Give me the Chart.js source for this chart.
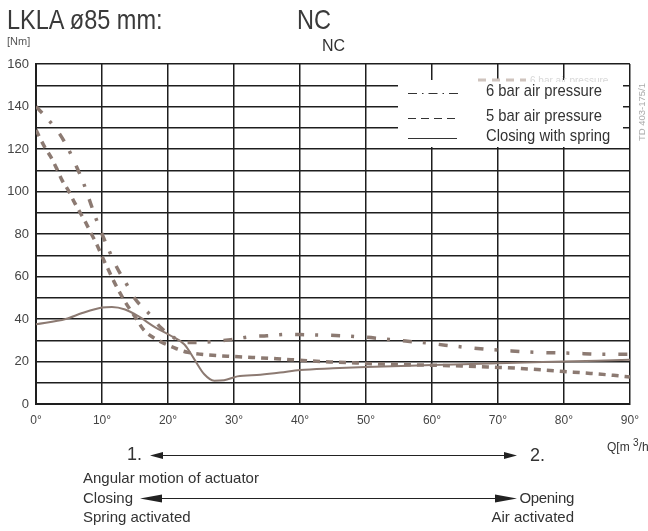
<!DOCTYPE html>
<html lang="en">
<head>
<meta charset="UTF-8">
<title>LKLA ø85 mm: NC</title>
<script src="https://cdn.jsdelivr.net/npm/chart.js"></script>
<style>
  body { margin: 0; background: #fff; }
  #wrap {
    position: relative;
    width: 648px;
    height: 531px;
    overflow: hidden;
    font-family: "Liberation Sans", Arial, sans-serif;
    color: #333;
  }
  #wrap canvas { position: absolute; left: 0; top: 0; }
  .t { position: absolute; white-space: nowrap; line-height: 1; }
  /* the original lettering is a condensed grotesque */
  .narrow { transform-origin: 0 0; transform: scaleX(0.84); }
  .leg { font-size: 17px; transform-origin: 0 0; transform: scaleX(0.87); }
</style>
</head>
<body>
<div id="wrap">
  <canvas id="chart" width="648" height="531"></canvas>

  <div class="t narrow" style="left:7px; top:6px; font-size:28px; color:#3a3a3a;">LKLA ø85 mm:</div>
  <div class="t narrow" style="left:297px; top:6px; font-size:28px; color:#3a3a3a;">NC</div>
  <div class="t" style="left:7px; top:36px; font-size:11px; color:#555;">[Nm]</div>
  <div class="t" style="left:322px; top:37.5px; font-size:16px; color:#333;">NC</div>

  <div class="t leg" style="left:486px; top:82px;">6 bar air pressure</div>
  <div class="t leg" style="left:486px; top:107px;">5 bar air pressure</div>
  <div class="t leg" style="left:486px; top:127px;">Closing with spring</div>

  <div class="t" style="left:642px; top:112px; font-size:9.5px; color:#aaa; transform:translate(-50%,-50%) rotate(-90deg);">TD 403-175/1</div>

  <div class="t" style="left:607px; top:438px; font-size:12px;">Q[m <sup style="font-size:10px; vertical-align:5px;">3</sup>/h</div>
  <div class="t" style="left:127px; top:445px; font-size:18px;">1.</div>
  <div class="t" style="left:530px; top:446px; font-size:18px;">2.</div>
  <div class="t" style="left:83px; top:470px; font-size:15px;">Angular motion of actuator</div>
  <div class="t" style="left:83px; top:490px; font-size:15px;">Closing</div>
  <div class="t" style="left:83px; top:508.5px; font-size:15px;">Spring activated</div>
  <div class="t" style="right:74px; top:490px; font-size:15px; letter-spacing:-0.3px;">Opening</div>
  <div class="t" style="right:74px; top:508.5px; font-size:15px;">Air activated</div>
</div>

<script>
  // angle of actuator [deg] and torque [Nm]
  const sixBarDeg = [0, 1.8, 3.6, 4.9, 6.1, 7.2, 8.1, 9, 10, 11.1, 12.3, 13.8, 15, 17, 18.9, 21, 22.5, 24.4, 26.8,
                     29.5, 32.5, 35, 38, 41, 44, 47, 50, 53, 56, 59, 62, 65, 68, 71, 74, 77, 80, 83, 86, 90];
  const sixBarNm  = [140, 134, 127, 120, 112, 104, 96, 88, 80, 72, 64, 56, 49.5, 43, 36, 31, 29, 29, 29.4,
                     30.3, 31.7, 32.1, 32.8, 32.6, 32.4, 32, 31.4, 30.5, 29.6, 28.8, 27.7, 26.7, 25.8, 25.2, 24.6, 24.2, 24, 23.7, 23.4, 23.4];

  const fiveBarDeg = [0, 1.3, 2.2, 3.1, 3.9, 4.9, 5.8, 6.7, 7.6, 8.4, 9.3, 10, 10.9, 11.8, 12.6, 13.6, 15.1, 16.3, 17.7, 19.5,
                      21.3, 23, 25, 29, 32.8, 36.5, 40.5, 44.5, 48.5, 52.5, 56.5, 60.5, 64.5, 68.5, 72.5, 76.5, 80, 84, 87.5, 90];
  const fiveBarNm  = [129, 121, 116.5, 111, 105.6, 100.5, 95, 90, 85, 80, 74.5, 69.5, 63.6, 57.7, 53, 47.6, 40.6, 35, 31.4, 28.4,
                      26, 24.3, 23.4, 22.5, 21.9, 21.3, 20.5, 19.8, 19.3, 18.8, 18.5, 18.2, 17.9, 17.4, 16.9, 16.1, 15.3, 14.4, 13.5, 12.7];

  const springDeg = [0, 4.5, 7, 10, 11.5, 13.5, 15.5, 18, 20.5, 22.5, 24, 25.5, 27, 28.5, 30.5, 34, 37, 40, 45, 50, 60, 70, 80, 90];
  const springNm  = [37.5, 40, 42.8, 45.4, 45.7, 44.5, 41.3, 36.2, 32, 28, 21, 14, 11, 11.2, 13, 13.8, 14.8, 16, 16.8, 17.4, 18.3, 19.2, 20, 20.8];

  const seriesNames = ['6 bar air pressure', '5 bar air pressure', 'Closing with spring'];

  const lineColor = '#8c7a72';
  const gridColor = '#1e1e1e';

  const pts = (xs, ys) => xs.map((x, i) => ({ x: x, y: ys[i] }));

  function arrow(ctx, x1, x2, y, headLen, headHalf) {
    ctx.beginPath();
    ctx.moveTo(x1 + headLen - 1, y);
    ctx.lineTo(x2 - headLen + 1, y);
    ctx.stroke();
    ctx.beginPath();
    ctx.moveTo(x1, y);
    ctx.lineTo(x1 + headLen, y - headHalf);
    ctx.lineTo(x1 + headLen, y + headHalf);
    ctx.closePath();
    ctx.fill();
    ctx.beginPath();
    ctx.moveTo(x2, y);
    ctx.lineTo(x2 - headLen, y - headHalf);
    ctx.lineTo(x2 - headLen, y + headHalf);
    ctx.closePath();
    ctx.fill();
  }

  // legend box, its line samples and the two motion arrows under the chart
  const extras = {
    id: 'extras',
    afterDraw(chart) {
      const ctx = chart.ctx;
      ctx.save();
      ctx.fillStyle = '#fff';
      ctx.fillRect(398, 80, 225, 67);

      // faint leftover label peeking out above the legend
      ctx.strokeStyle = '#cfc4be';
      ctx.lineWidth = 3;
      ctx.setLineDash([8, 6]);
      ctx.beginPath();
      ctx.moveTo(478, 80);
      ctx.lineTo(526, 80);
      ctx.stroke();
      ctx.fillStyle = '#d8d8d8';
      ctx.font = '10px "Liberation Sans", Arial, sans-serif';
      ctx.fillText('6 bar air pressure', 530, 84);
      ctx.fillStyle = '#fff';
      ctx.fillRect(470, 82, 150, 8);

      ctx.strokeStyle = '#333';
      ctx.lineWidth = 1;
      ctx.setLineDash([9, 5, 1.5, 5]);
      ctx.beginPath(); ctx.moveTo(408, 93.5); ctx.lineTo(458, 93.5); ctx.stroke();
      ctx.setLineDash([8, 5]);
      ctx.beginPath(); ctx.moveTo(408, 118.5); ctx.lineTo(455, 118.5); ctx.stroke();
      ctx.setLineDash([]);
      ctx.beginPath(); ctx.moveTo(408, 138.5); ctx.lineTo(457, 138.5); ctx.stroke();

      ctx.strokeStyle = '#222';
      ctx.fillStyle = '#222';
      arrow(ctx, 150, 517, 455.5, 13, 3.5);
      arrow(ctx, 140, 517, 498.5, 22, 4);
      ctx.restore();
    }
  };

  new Chart(document.getElementById('chart'), {
    type: 'line',
    data: {
      datasets: [
        {
          label: seriesNames[0],
          data: pts(sixBarDeg, sixBarNm),
          borderColor: lineColor,
          borderWidth: 3.5,
          borderDash: [9, 11, 3, 13],
          cubicInterpolationMode: 'monotone',
          pointRadius: 0
        },
        {
          label: seriesNames[1],
          data: pts(fiveBarDeg, fiveBarNm),
          borderColor: lineColor,
          borderWidth: 3.5,
          borderDash: [7, 6],
          cubicInterpolationMode: 'monotone',
          pointRadius: 0
        },
        {
          label: seriesNames[2],
          data: pts(springDeg, springNm),
          borderColor: lineColor,
          borderWidth: 2,
          cubicInterpolationMode: 'monotone',
          pointRadius: 0
        }
      ]
    },
    options: {
      responsive: false,
      animation: false,
      layout: { padding: { top: 64, right: 11, bottom: 97, left: 0 } },
      plugins: {
        legend: { display: false },
        tooltip: { enabled: false }
      },
      scales: {
        x: {
          type: 'linear',
          min: 0,
          max: 90,
          afterFit: s => { s.height = 30; },
          ticks: {
            stepSize: 10,
            padding: 9,
            color: '#444',
            font: { family: '"Liberation Sans", Arial, sans-serif', size: 12 },
            callback: v => v + '°'
          },
          grid: { color: gridColor, lineWidth: 1.5, drawTicks: false },
          border: { color: gridColor, width: 2 }
        },
        y: {
          min: 0,
          max: 160,
          afterFit: s => { s.width = 36; },
          ticks: {
            stepSize: 10,
            autoSkip: false,
            padding: 7,
            color: '#444',
            font: { family: '"Liberation Sans", Arial, sans-serif', size: 13 },
            callback: v => (v % 20 === 0 ? v : '')
          },
          grid: { color: gridColor, lineWidth: 1.5, drawTicks: false },
          border: { color: gridColor, width: 2 }
        }
      }
    },
    plugins: [extras]
  });
</script>
</body>
</html>
